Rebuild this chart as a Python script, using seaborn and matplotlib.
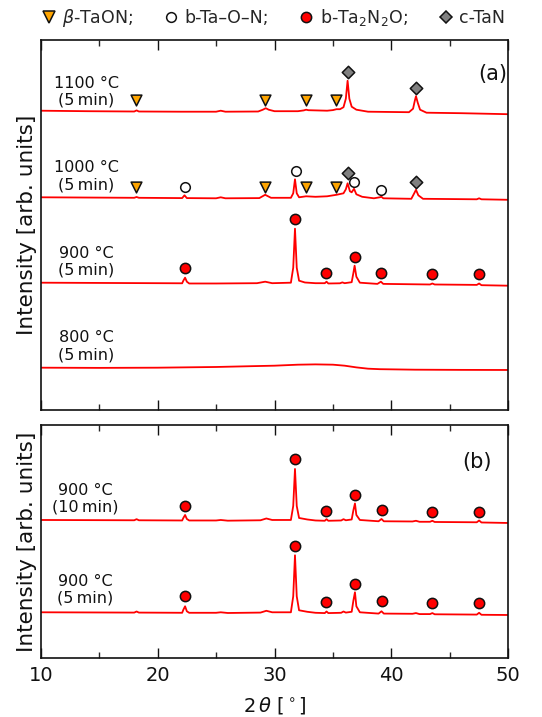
import matplotlib
matplotlib.use("Agg")
import matplotlib.pyplot as plt
from matplotlib.lines import Line2D
from matplotlib.ticker import MultipleLocator
import seaborn as sns
import pandas as pd

# ---------------- data ----------------
# 2theta positions and relative intensities of each pattern
x_1100 = [10, 14, 18.0, 18.2, 18.4, 22, 25.0, 25.4, 25.8, 28.6, 29.0, 29.25, 29.5, 30.0,
          32.0, 32.5, 32.7, 32.9, 34.5, 35.0, 35.3, 35.6, 35.9, 36.1, 36.25, 36.4, 36.6,
          37.0, 38.0, 41.5, 41.85, 42.0, 42.1, 42.25, 42.45, 43.0, 46.0, 50]
i_1100 = [0, -0.5, -0.8, 0.3, -0.8, -1.0, -1.0, 0.0, -1.0, -0.8, 1.0, 2.5, 1.0, -0.5,
          -0.5, 0.3, 1.0, 0.5, 0.0, 0.6, 1.5, 1.5, 3.5, 12, 30, 12, 4,
          1.0, -1.0, -1.5, 2, 10, 14.5, 8, 1, -2, -2.5, -3.5]

x_1000 = [10, 18.0, 18.2, 18.4, 22.1, 22.3, 22.5, 25, 25.4, 25.8, 28.7, 29.2, 29.7,
          31.4, 31.6, 31.75, 31.9, 32.1, 32.7, 33.5, 34.5, 35.3, 35.9, 36.1, 36.25,
          36.45, 36.6, 36.8, 37.0, 37.5, 38.5, 39.0, 39.15, 39.3, 41.7, 41.95, 42.1,
          42.3, 42.7, 47.3, 47.5, 47.7, 50]
i_1000 = [0, -0.5, 0.3, -0.5, -0.8, 2, -0.8, -1, 0, -1, -0.8, 2.5, -0.5,
          -0.5, 4, 18, 4, 0, 1, 0.5, 1, 2.5, 4, 8, 14,
          6, 5, 8.5, 3, 0.5, -1, 0, 0.5, -1, -1.5, 4, 7.5,
          2, -1.5, -2, -1, -2, -2.5]

x_900 = [10, 16, 22.1, 22.2, 22.35, 22.5, 22.7, 25, 28.5, 29.2, 29.8, 31.4, 31.6, 31.75,
         31.9, 32.1, 32.6, 33.5, 34.3, 34.45, 34.6, 35.6, 35.8, 36.0, 36.6, 36.75, 36.85,
         37.0, 37.3, 38.8, 39.1, 39.3, 43.3, 43.5, 43.7, 47.3, 47.5, 47.7, 50]
i_900 = [0, -0.3, -0.6, 2, 5, 1, -0.8, -0.8, -0.5, 1.0, -0.5, 0, 15, 54,
         15, 2, 0.2, -0.5, -0.5, 1, -0.8, -0.6, 0.3, -0.5, 0.5, 10, 17,
         6, 0, -1.2, 1, -1.2, -1.8, -0.8, -1.8, -2.2, -0.8, -2.5, -3]

x_800 = [10, 15, 20, 25, 28, 30, 32, 33.5, 35, 36, 37, 38, 39, 42, 46, 50]
i_800 = [0, -0.2, 0, 0.7, 1.5, 2.0, 3.0, 3.3, 3.0, 2.0, 0.3, -1.0, -1.5, -2.0, -2.2, -2.3]

x_900_10 = [10, 18.0, 18.2, 18.4, 22.1, 22.2, 22.35, 22.5, 22.7, 25, 25.4, 26, 28.8, 29.3,
            29.8, 31.4, 31.6, 31.75, 31.9, 32.1, 32.8, 33.5, 34.3, 34.45, 34.6, 35.7, 35.9,
            36.1, 36.6, 36.75, 36.88, 37.0, 37.3, 38.9, 39.15, 39.35, 41.8, 42.1, 42.4,
            43.3, 43.5, 43.7, 47.3, 47.5, 47.7, 50]
i_900_10 = [0, -0.3, 0.8, -0.3, -0.5, 2, 5, 1, -0.5, -0.5, 0, -0.7, -0.3, 1.5,
            0, 0, 14, 51, 14, 2, 0.5, -0.5, -0.8, 0.8, -0.8, -0.5, 0.8,
            -0.3, 0.5, 10, 16.5, 5, 0, -1.3, 1, -1.3, -1.5, -0.8, -1.8,
            -1.8, -0.8, -2, -2.3, -0.5, -2.5, -3]

x_900_5 = [10, 18.0, 18.2, 18.4, 22.1, 22.2, 22.35, 22.5, 22.7, 25, 25.4, 26, 28.8, 29.3,
           29.8, 31.4, 31.6, 31.75, 31.9, 32.1, 32.8, 33.5, 34.3, 34.45, 34.6, 35.7, 35.9,
           36.1, 36.6, 36.75, 36.88, 37.0, 37.3, 38.9, 39.15, 39.35, 41.8, 42.1, 42.4,
           43.3, 43.5, 43.7, 47.3, 47.5, 47.7, 50]
i_900_5 = [0, -0.3, 0.8, -0.3, -0.5, 2.5, 6, 1, -0.5, -0.5, 0, -0.7, -0.3, 1.5,
           0, 0, 16, 57, 16, 2, 0.5, -0.5, -0.8, 0.8, -0.8, -0.5, 0.8,
           -0.3, 0.5, 12, 20, 6, 0, -1.3, 1, -1.3, -1.5, -0.8, -1.8,
           -1.8, -0.8, -2, -2.3, -0.5, -2.5, -2.7]

# phase markers: 2theta positions and heights (same units as the panel)
tri_x_1100 = [18.15, 29.2, 32.7, 35.3]
tri_y_1100 = [310, 310, 310, 310]
dia_x_1100 = [36.25, 42.1]
dia_y_1100 = [338.3, 322.3]

tri_x_1000 = [18.15, 29.2, 32.7, 35.3]
tri_y_1000 = [223, 223, 223, 223]
circ_x_1000 = [22.35, 31.8, 36.8, 39.1]
circ_y_1000 = [222.7, 239.3, 228.3, 220]
dia_x_1000 = [36.25, 42.1]
dia_y_1000 = [237.3, 227.7]

dot_x_900 = [22.35, 31.75, 34.4, 36.85, 39.1, 43.5, 47.5]
dot_y_900 = [141.7, 190.7, 136.7, 153.3, 137.3, 135.7, 136]

dot_x_b = [22.3, 31.77, 34.4, 36.86, 39.2, 43.5, 47.5]
dot_y_b10 = [152, 198.7, 147, 163, 147.7, 146, 146.3]
dot_y_b5 = [62, 112.3, 56.3, 74, 57, 55.3, 55.3]

labels_a = ["1100 °C\n(5\u2009min)", "1000 °C\n(5\u2009min)", "900 °C\n(5\u2009min)", "800 °C\n(5\u2009min)"]
labels_b = ["900 °C\n(10\u2009min)", "900 °C\n(5\u2009min)"]
legend_labels = [r"$\beta$-TaON;", "b-Ta–O–N;", r"b-Ta$_2$N$_2$O;", "c-TaN"]
xticks = [10, 20, 30, 40, 50]

# ---------------- layout / style ----------------
offsets_a = [299.3, 212.7, 127.3, 42.3]
offsets_b = [138, 45.7]
label_y_a = [318.3, 233.7, 148.3, 63.7]
label_y_b = [159, 68]

sns.set_theme(style="ticks")
plt.rcParams["font.family"] = ["DejaVu Sans"]
plt.rcParams["mathtext.fontset"] = "dejavusans"

fig = plt.figure(figsize=(5.42, 7.17), dpi=100)
ax_a = fig.add_axes([0.0751, 0.4282, 0.8628, 0.5167])
ax_b = fig.add_axes([0.0751, 0.0823, 0.8628, 0.3250])

RED = "#ff0000"
LW = 1.3

def curve(ax, xs, ys, off):
    df = pd.DataFrame({"x": xs, "y": [v + off for v in ys]})
    sns.lineplot(data=df, x="x", y="y", ax=ax, color=RED, lw=LW,
                 estimator=None, sort=False, zorder=2)

def marks(ax, xs, ys, kind):
    styles = {
        "tri": dict(marker="v", s=60, color="#ffa500"),
        "circ": dict(marker="o", s=48, color="white"),
        "dot": dict(marker="o", s=55, color=RED),
        "dia": dict(marker="D", s=40, color="#808080"),
    }
    st = styles[kind]
    sns.scatterplot(x=xs, y=ys, ax=ax, marker=st["marker"], s=st["s"],
                    color=st["color"], edgecolor="#111111", linewidth=1.1, zorder=3)

curve(ax_a, x_1100, i_1100, offsets_a[0])
curve(ax_a, x_1000, i_1000, offsets_a[1])
curve(ax_a, x_900, i_900, offsets_a[2])
curve(ax_a, x_800, i_800, offsets_a[3])
curve(ax_b, x_900_10, i_900_10, offsets_b[0])
curve(ax_b, x_900_5, i_900_5, offsets_b[1])

marks(ax_a, tri_x_1100, tri_y_1100, "tri")
marks(ax_a, dia_x_1100, dia_y_1100, "dia")
marks(ax_a, tri_x_1000, tri_y_1000, "tri")
marks(ax_a, circ_x_1000, circ_y_1000, "circ")
marks(ax_a, dia_x_1000, dia_y_1000, "dia")
marks(ax_a, dot_x_900, dot_y_900, "dot")
marks(ax_b, dot_x_b, dot_y_b10, "dot")
marks(ax_b, dot_x_b, dot_y_b5, "dot")

for lab, yy in zip(labels_a, label_y_a):
    ax_a.text(13.9, yy, lab, ha="center", va="center", multialignment="center",
              fontsize=11.5, linespacing=1.15, color="#111111")
for lab, yy in zip(labels_b, label_y_b):
    ax_b.text(13.8, yy, lab, ha="center", va="center", multialignment="center",
              fontsize=11.5, linespacing=1.15, color="#111111")
ax_a.text(48.7, 335.7, "(a)", ha="center", va="center", fontsize=15, color="#111111")
ax_b.text(47.3, 196, "(b)", ha="center", va="center", fontsize=15, color="#111111")

for ax, top in ((ax_a, 370.5), (ax_b, 233)):
    ax.set_xlim(10, 50)
    ax.set_ylim(0, top)
    ax.set_yticks([])
    ax.set_ylabel("Intensity [arb. units]", fontsize=15.5, labelpad=3, color="#111111")
    ax.xaxis.set_minor_locator(MultipleLocator(5))
    ax.set_xticks(xticks)
    ax.tick_params(axis="x", which="major", direction="in", top=True, bottom=True,
                   length=7, width=1.0, labelsize=14, colors="#111111", pad=6)
    ax.tick_params(axis="x", which="minor", direction="in", top=True, bottom=True,
                   length=4, width=1.0)
    ax.set_xlabel("")
    for sp in ax.spines.values():
        sp.set_visible(True)
        sp.set_linewidth(1.2)
        sp.set_color("#111111")

ax_a.tick_params(axis="x", which="both", labelbottom=False)
ax_b.set_xlabel(r"2$\,\theta$ [$^\circ$]", fontsize=14, color="#111111", labelpad=7)

handles = [
    Line2D([], [], ls="", marker="v", ms=8, mfc="#ffa500", mec="#111111", mew=1.1),
    Line2D([], [], ls="", marker="o", ms=7, mfc="white", mec="#111111", mew=1.1),
    Line2D([], [], ls="", marker="o", ms=7.4, mfc=RED, mec="#111111", mew=1.1),
    Line2D([], [], ls="", marker="D", ms=6.3, mfc="#808080", mec="#111111", mew=1.1),
]
ax_a.legend(handles, legend_labels, loc="lower right", bbox_to_anchor=(1.016, 1.0),
            ncol=4, frameon=False, fontsize=12.5, handlelength=0.8,
            handletextpad=0.4, columnspacing=1.75, borderaxespad=0.2)

fig.savefig("out.png", dpi=100)
